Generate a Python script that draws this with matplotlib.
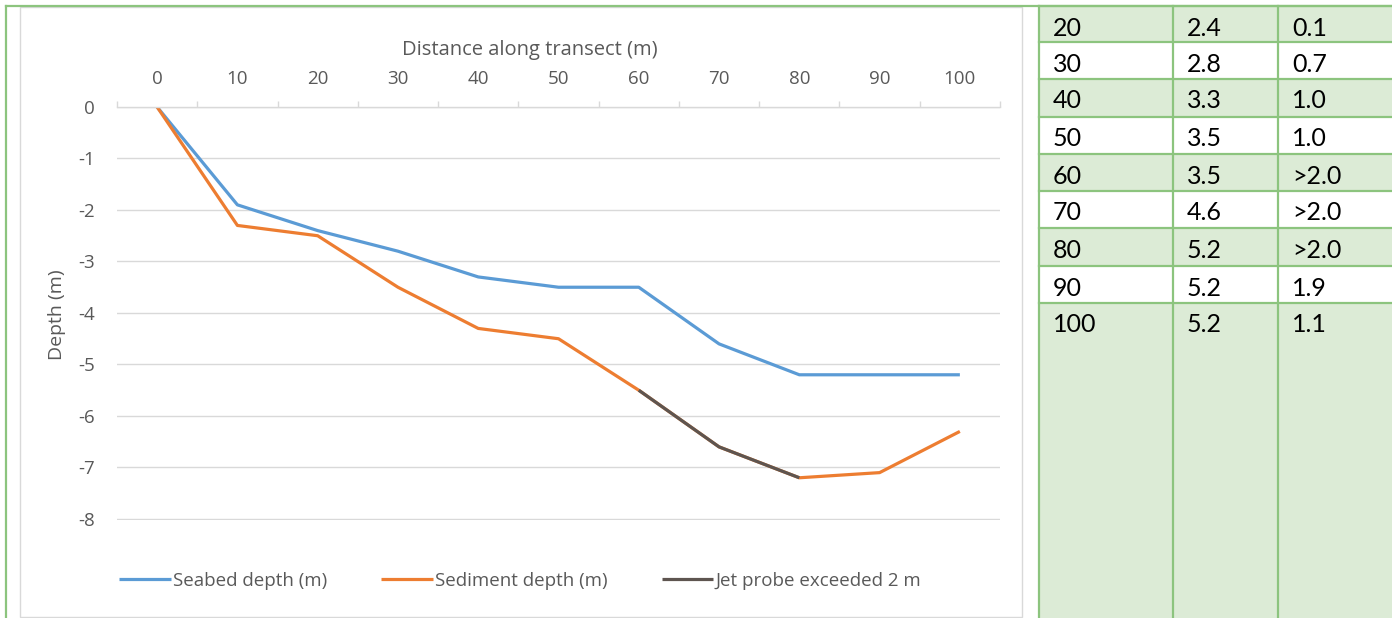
import matplotlib
matplotlib.use("Agg")
import matplotlib.pyplot as plt
from matplotlib.patches import Rectangle
from matplotlib.lines import Line2D

# ---------------- data ----------------
distance = [0, 10, 20, 30, 40, 50, 60, 70, 80, 90, 100]
seabed_depth = [0, -1.9, -2.4, -2.8, -3.3, -3.5, -3.5, -4.6, -5.2, -5.2, -5.2]
sediment_depth = [0, -2.3, -2.5, -3.5, -4.3, -4.5, -5.5, -6.6, -7.2, -7.1, -6.3]
jet_distance = [60, 70, 80]
jet_depth = [-5.5, -6.6, -7.2]
x_ticklabels = [str(v) for v in distance]
y_ticks = [0, -1, -2, -3, -4, -5, -6, -7, -8]

table_dist = ["20", "30", "40", "50", "60", "70", "80", "90", "100"]
table_seabed = ["2.4", "2.8", "3.3", "3.5", "3.5", "4.6", "5.2", "5.2", "5.2"]
table_sediment = ["0.1", "0.7", "1.0", "1.0", ">2.0", ">2.0", ">2.0", "1.9", "1.1"]

series_labels = ["Seabed depth (m)", "Sediment depth (m)", "Jet probe exceeded 2 m"]
colors = ["#5B9BD5", "#ED7D31", "#5E5550"]

W, H = 1392, 618
fig = plt.figure(figsize=(W / 100, H / 100), dpi=100)
fig.patch.set_facecolor("white")


def fx(x):
    return x / W


def fy(y):
    return 1 - y / H


TXT = "#595959"
GRID = "#D9D9D9"
GREEN_BORDER = "#8CC47E"
GREEN_FILL = "#DCEBD6"
chart_font = "Open Sans"
FS = 13.5

# ---------- outer table borders ----------
fig.add_artist(Line2D([fx(6), fx(6)], [fy(6), fy(618)], color=GREEN_BORDER, lw=1.6))
fig.add_artist(Line2D([fx(6), fx(1392)], [fy(6), fy(6)], color=GREEN_BORDER, lw=1.6))

# ---------- chart frame ----------
fig.add_artist(Rectangle((fx(20), fy(617)), fx(1022) - fx(20), fy(7) - fy(617),
                         fill=False, edgecolor=GRID, lw=1.0))

# ---------- axes ----------
L, R, T, B = 117, 1000, 107, 520
ax = fig.add_axes([fx(L), fy(B), fx(R) - fx(L), fy(T) - fy(B)])
ax.set_xlim(-5, 105)
ax.set_ylim(-8.02, 0)
for s in ["left", "right", "bottom"]:
    ax.spines[s].set_visible(False)
ax.spines["top"].set_color(GRID)
ax.spines["top"].set_linewidth(1.0)

ax.xaxis.tick_top()
ax.set_xticks([v - 5 for v in distance] + [105])
ax.set_xticklabels([])
ax.tick_params(axis="x", which="major", length=4, color=GRID, width=1, direction="out")
ax.set_xticks(distance, minor=True)
ax.set_xticklabels(x_ticklabels, minor=True)
ax.tick_params(axis="x", which="minor", length=0, pad=14, labelsize=FS, labelcolor=TXT, top=True, bottom=False)
for lab in ax.get_xticklabels(minor=True):
    lab.set_fontfamily(chart_font)

ax.set_yticks(y_ticks)
ax.set_yticklabels([str(v) for v in y_ticks])
ax.tick_params(axis="y", length=0, pad=16, labelsize=FS, labelcolor=TXT)
for lab in ax.get_yticklabels():
    lab.set_fontfamily(chart_font)
ax.grid(axis="y", color=GRID, lw=1.0)
ax.set_axisbelow(True)

h1, = ax.plot(distance, seabed_depth, color=colors[0], lw=2.3, solid_capstyle="butt", label=series_labels[0])
h2, = ax.plot(distance, sediment_depth, color=colors[1], lw=2.3, solid_capstyle="butt", label=series_labels[1])
h3, = ax.plot(jet_distance, jet_depth, color=colors[2], lw=2.3, solid_capstyle="butt", label=series_labels[2])

fig.text(fx(530), fy(50), "Distance along transect (m)", ha="center", va="center",
         fontsize=14.5, color=TXT, family=chart_font)
fig.text(fx(57), fy(315), "Depth (m)", ha="center", va="center", rotation=90,
         fontsize=14, color=TXT, family=chart_font)

leg = ax.legend(handles=[h1, h2, h3], ncol=3, loc="center left",
                bbox_to_anchor=(fx(119), fy(581)), bbox_transform=fig.transFigure,
                frameon=False, handlelength=2.75, handletextpad=0.15, columnspacing=2.85,
                prop={"family": chart_font, "size": FS}, labelcolor=TXT, borderpad=0, borderaxespad=0)

# ---------- table ----------
col_x = [1039, 1173, 1278, 1392]
row_y = [6, 42, 79, 117, 154, 191, 228, 266, 303, 618]
for i in range(len(table_dist)):
    y0, y1 = row_y[i], row_y[i + 1]
    fill = GREEN_FILL if i % 2 == 0 else "white"
    fig.add_artist(Rectangle((fx(col_x[0]), fy(y1)), fx(col_x[-1]) - fx(col_x[0]), fy(y0) - fy(y1),
                             facecolor=fill, edgecolor="none"))
    for c, vals in enumerate([table_dist, table_seabed, table_sediment]):
        fig.text(fx(col_x[c] + 14), fy(y0 + 29.5), vals[i], ha="left", va="baseline",
                 fontsize=18, color="black", family="Lato")
for y in row_y[:-1]:
    fig.add_artist(Line2D([fx(col_x[0]), fx(col_x[-1])], [fy(y), fy(y)], color=GREEN_BORDER, lw=1.6))
for x in col_x[:-1]:
    fig.add_artist(Line2D([fx(x), fx(x)], [fy(6), fy(618)], color=GREEN_BORDER, lw=1.6))

fig.savefig("out.png", dpi=100, facecolor="white")
